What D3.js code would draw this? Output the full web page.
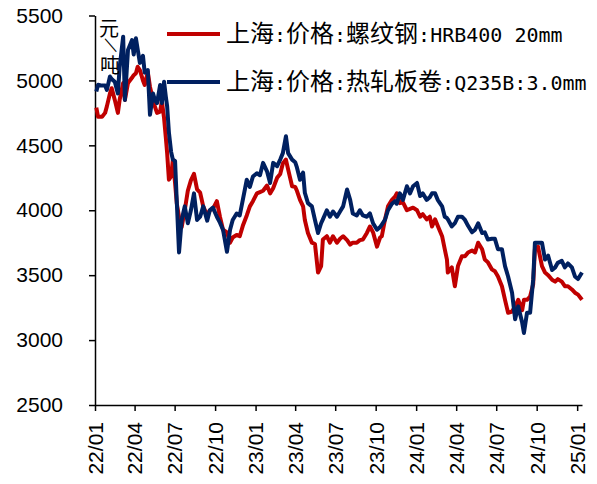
<!DOCTYPE html>
<html><head><meta charset="utf-8">
<script src="https://cdn.jsdelivr.net/npm/d3@7"></script>
<style>body{margin:0;background:#fff}</style>
</head><body>
<svg id="c" width="597" height="484"></svg>
<script>
const dates = [
"2022-01-04","2022-01-08","2022-01-17","2022-01-24","2022-01-28","2022-02-04","2022-02-08","2022-02-15","2022-02-22","2022-02-26",
"2022-03-06","2022-03-10","2022-03-17","2022-03-26","2022-03-30","2022-04-04","2022-04-08","2022-04-13","2022-04-20","2022-04-24",
"2022-05-01","2022-05-06","2022-05-13","2022-05-17","2022-05-22","2022-05-29","2022-06-02","2022-06-07","2022-06-11","2022-06-14",
"2022-06-18","2022-06-23","2022-06-27","2022-07-02","2022-07-06","2022-07-11","2022-07-17","2022-07-24","2022-07-31","2022-08-07",
"2022-08-14","2022-08-21","2022-08-28","2022-09-04","2022-09-13","2022-09-19","2022-09-26","2022-10-05","2022-10-12","2022-10-19",
"2022-10-28","2022-11-04","2022-11-10","2022-11-19","2022-11-26","2022-12-03","2022-12-12","2022-12-19","2022-12-26",
"2023-01-04","2023-01-11","2023-01-18","2023-01-27","2023-02-03","2023-02-10","2023-02-19","2023-02-26","2023-03-04","2023-03-11",
"2023-03-16","2023-03-25","2023-04-01","2023-04-05","2023-04-12","2023-04-19","2023-04-23","2023-04-30","2023-05-09","2023-05-16",
"2023-05-23","2023-05-30","2023-06-03","2023-06-12","2023-06-19","2023-06-26","2023-07-05","2023-07-12","2023-07-19","2023-07-28",
"2023-08-04","2023-08-10","2023-08-19","2023-08-26","2023-09-02","2023-09-11","2023-09-18","2023-09-25","2023-10-04","2023-10-11",
"2023-10-15","2023-10-22","2023-10-29","2023-11-07","2023-11-14","2023-11-18","2023-11-25","2023-12-02","2023-12-11","2023-12-18",
"2023-12-25",
"2024-01-03","2024-01-10","2024-01-16","2024-01-25","2024-02-01","2024-02-06","2024-02-13","2024-02-19","2024-02-29","2024-03-06",
"2024-03-11","2024-03-13","2024-03-22","2024-03-29","2024-04-05","2024-04-14","2024-04-21","2024-04-28","2024-05-07","2024-05-14",
"2024-05-21","2024-05-30","2024-06-05","2024-06-12","2024-06-21","2024-06-28","2024-07-05","2024-07-14","2024-07-21","2024-07-28",
"2024-08-06","2024-08-13","2024-08-20","2024-08-29","2024-09-02","2024-09-09","2024-09-16","2024-09-23","2024-09-27","2024-10-04",
"2024-10-13","2024-10-20","2024-10-27","2024-11-05","2024-11-12","2024-11-18","2024-11-27","2024-12-04","2024-12-11","2024-12-20",
"2024-12-27",
"2025-01-03","2025-01-12"
];
const rebar = [
4790,4720,4720,4750,4800,4900,4940,4850,4750,4850,
4980,4850,4980,5020,5040,5055,5105,5080,5000,4965,
5065,4950,4850,4800,4750,4760,4840,4710,4560,4440,
4235,4260,4390,4210,4050,3950,3870,4000,4150,4230,
4280,4160,4135,4030,3960,4000,4010,4070,3950,3850,
3830,3750,3790,3810,3800,3880,3960,4030,4070,
4130,4140,4150,4190,4130,4170,4250,4280,4360,4390,
4315,4185,4180,4150,4080,4030,3925,3825,3750,3740,
3520,3570,3775,3800,3750,3800,3750,3780,3800,3770,
3735,3750,3750,3770,3775,3825,3875,3830,3720,3790,
3800,3925,4030,4080,4105,4130,4055,4060,4000,4010,
4020,
4000,3950,3970,3930,3950,3875,3930,3880,3800,3700,
3620,3520,3560,3415,3570,3645,3645,3675,3690,3675,
3750,3700,3620,3600,3545,3530,3490,3415,3310,3210,
3220,3260,3310,3230,3310,3310,3335,3430,3700,3720,
3570,3520,3500,3465,3450,3470,3450,3415,3415,3390,
3365,
3350,3310
];
const hrc = [
4914,4966,4960,4960,4927,5030,5010,4990,4900,5100,
5337,4850,5235,5310,5200,5325,5240,5135,5190,5060,
5080,4735,4900,4850,4825,4965,4825,4990,4875,4800,
4600,4450,4390,4380,4060,3675,3925,4030,3900,4000,
4130,3925,3950,4030,3920,4000,4020,3950,3905,3850,
3680,3850,3925,3975,3960,4080,4235,4180,4260,
4285,4270,4365,4300,4210,4365,4340,4390,4440,4570,
4440,4390,4370,4330,4235,4290,4135,4055,4030,3925,
3825,3900,3930,4000,3950,3990,3950,3990,4030,4160,
4080,3975,3960,4000,3960,3950,3975,3900,3850,3870,
3890,3925,4000,4050,4070,4050,4130,4080,4185,4130,
4185,
4210,4110,4130,4080,4100,4130,4130,4080,4030,3950,
3940,3930,3875,3900,3950,3950,3925,3880,3830,3850,
3900,3825,3830,3775,3780,3780,3700,3700,3570,3490,
3365,3160,3260,3135,3055,3210,3210,3465,3750,3750,
3750,3620,3650,3540,3560,3595,3610,3560,3590,3560,
3490,
3470,3520
];
const seriesNames = ["上海:价格:螺纹钢:HRB400 20mm", "上海:价格:热轧板卷:Q235B:3.0mm"];
const seriesColors = ["#C00000", "#002060"];
const yTicks = [2500, 3000, 3500, 4000, 4500, 5000, 5500];
const xTickDates = ["2022-01-01","2022-04-01","2022-07-01","2022-10-01","2023-01-01","2023-04-01","2023-07-01","2023-10-01","2024-01-01","2024-04-01","2024-07-01","2024-10-01","2025-01-01"];
const xTickLabels = ["22/01","22/04","22/07","22/10","23/01","23/04","23/07","23/10","24/01","24/04","24/07","24/10","25/01"];
const unitLabel = ["元", "/", "吨"];

const parse = d3.timeParse("%Y-%m-%d");
const svg = d3.select("#c");
const x = d3.scaleTime().domain([parse("2022-01-01"), parse("2025-01-12")]).range([95, 582]);
const y = d3.scaleLinear().domain([2500, 5500]).range([405, 15.5]);

// axes
const yAxis = svg.append("g").attr("transform", "translate(95,0)")
  .call(d3.axisLeft(y).tickValues(yTicks).tickSize(6).tickSizeOuter(0).tickPadding(26).tickFormat(d3.format("d")));
yAxis.selectAll("text").attr("font-family", "'Liberation Sans', Arial, sans-serif").attr("font-size", 21).attr("fill", "#000");
const xAxis = svg.append("g").attr("transform", "translate(0,405)")
  .call(d3.axisBottom(x).tickValues(xTickDates.map(parse)).tickFormat((d, i) => xTickLabels[i]).tickSize(6).tickSizeOuter(0));
xAxis.selectAll("text")
  .attr("font-family", "'Liberation Sans', Arial, sans-serif").attr("font-size", 21).attr("fill", "#000")
  .attr("transform", "rotate(-90)").attr("text-anchor", "end").attr("x", -17).attr("y", 0).attr("dy", "0.35em");
svg.selectAll(".domain, .tick line").attr("stroke", "#000").attr("stroke-width", 1.5);

// lines
const rows = dates.map((d, i) => ({ d: parse(d), r: rebar[i], h: hrc[i] }));
const lineR = d3.line().x(d => x(d.d)).y(d => y(d.r));
const lineH = d3.line().x(d => x(d.d)).y(d => y(d.h));
svg.append("path").datum(rows).attr("d", lineR).attr("fill", "none").attr("stroke", seriesColors[0]).attr("stroke-width", 4).attr("stroke-linejoin", "round");
svg.append("path").datum(rows).attr("d", lineH).attr("fill", "none").attr("stroke", seriesColors[1]).attr("stroke-width", 4).attr("stroke-linejoin", "round");

// unit label
const uf = "'Noto Sans CJK SC', sans-serif";
svg.append("text").attr("x", 109).attr("y", 36).attr("text-anchor", "middle").attr("font-family", uf).attr("font-size", 20).text(unitLabel[0]);
svg.append("text").attr("transform", "translate(110,45) rotate(-58)").attr("text-anchor", "middle").attr("dy", "0.35em")
  .attr("font-family", "'DejaVu Sans', sans-serif").attr("font-size", 20).attr("font-weight", 300).text(unitLabel[1]);
svg.append("text").attr("x", 110).attr("y", 73).attr("text-anchor", "middle").attr("font-family", uf).attr("font-size", 20).text(unitLabel[2]);

// legend
const legY = [34, 82];
seriesNames.forEach((name, i) => {
  svg.append("line").attr("x1", 167).attr("x2", 220).attr("y1", legY[i]).attr("y2", legY[i])
    .attr("stroke", seriesColors[i]).attr("stroke-width", 4);
  const t = svg.append("text").attr("x", 226).attr("y", legY[i] + 8).attr("fill", "#000");
  const runs = name.match(/[\u4e00-\u9fff]+|[^\u4e00-\u9fff]+/g);
  runs.forEach(r => {
    const cjk = /[\u4e00-\u9fff]/.test(r);
    t.append("tspan").attr("font-family", cjk ? uf : "'DejaVu Sans Mono', monospace")
      .attr("font-size", cjk ? 24 : 20).text(r);
  });
});
</script>
</body></html>
